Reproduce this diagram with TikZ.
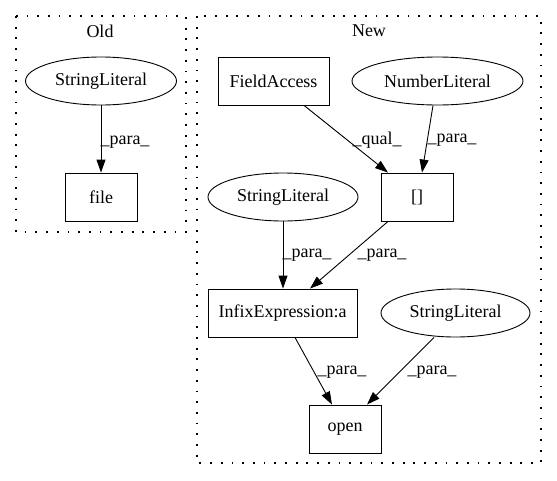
\documentclass[tikz,border=0pt]{standalone}
\usepackage{fontspec}
\setmainfont{Liberation Serif}
\usetikzlibrary{arrows.meta,shapes.geometric}
\begin{document}
\begin{tikzpicture}[x=1pt,y=-1pt,
  every node/.style={font=\fontsize{18pt}{21pt}\selectfont},
  box/.style={draw,line width=0.9pt,rectangle,minimum height=48pt,inner sep=0pt},
  oval/.style={draw,line width=0.9pt,ellipse,minimum height=48pt,inner sep=0pt},
  cluster/.style={draw,line width=1.2pt,dash pattern=on 1.8pt off 8.9pt},
  conn/.style={draw,line width=0.9pt,-{Triangle[length=13pt,width=9pt]}},
  lbl/.style={inner sep=0pt}]
\useasboundingbox (0,0) rectangle (557,480);
% clusters
\draw[cluster] (16,16) rectangle (186,232);
\draw[cluster] (197,16) rectangle (541,463);
\node (oldt) at (100,31) {Old};
\node (newt) at (369,31) {New};
% Old nodes
\node[oval,minimum width=151pt] (sl1) at (101,81) {StringLiteral};
\node[box,minimum width=72pt] (file) at (101,197) {file};
% New nodes
\node[box,minimum width=111pt] (fa) at (273.5,81) {FieldAccess};
\node[oval,minimum width=171pt] (nl) at (437.5,81) {NumberLiteral};
\node[box,minimum width=72pt] (br) at (417,197) {[]};
\node[oval,minimum width=150pt] (sl2) at (283,197) {StringLiteral};
\node[box,minimum width=149pt] (infix) at (282.5,313) {InfixExpression:a};
\node[oval,minimum width=149pt] (sl3) at (455.5,313) {StringLiteral};
\node[box,minimum width=72pt] (open) at (345,429) {open};
% edges
\draw[conn] (sl1) -- (file);
\draw[conn] (fa) -- (br.north west -| 388,173);
\draw[conn] (nl.south -| 433,0) -- (br.north -| 422,0);
\draw[conn] (sl2) -- (infix.north -| 283,0);
\draw[conn] (br.south -| 388,0) -- (infix.north -| 310,0);
\draw[conn] (infix.south -| 295,0) -- (open.north -| 332,0);
\draw[conn] (sl3.south -| 434,0) -- (open.north -| 367,0);
% labels
\node[lbl] (l1) at (125,142) {\_para\_};
\node[lbl] (l2) at (377,140) {\_qual\_};
\node[lbl] (l3) at (452,140) {\_para\_};
\node[lbl] (l4) at (307,255) {\_para\_};
\node[lbl] (l5) at (382,255) {\_para\_};
\node[lbl] (l6) at (342,372) {\_para\_};
\node[lbl] (l7) at (432,372) {\_para\_};
\end{tikzpicture}
\end{document}
